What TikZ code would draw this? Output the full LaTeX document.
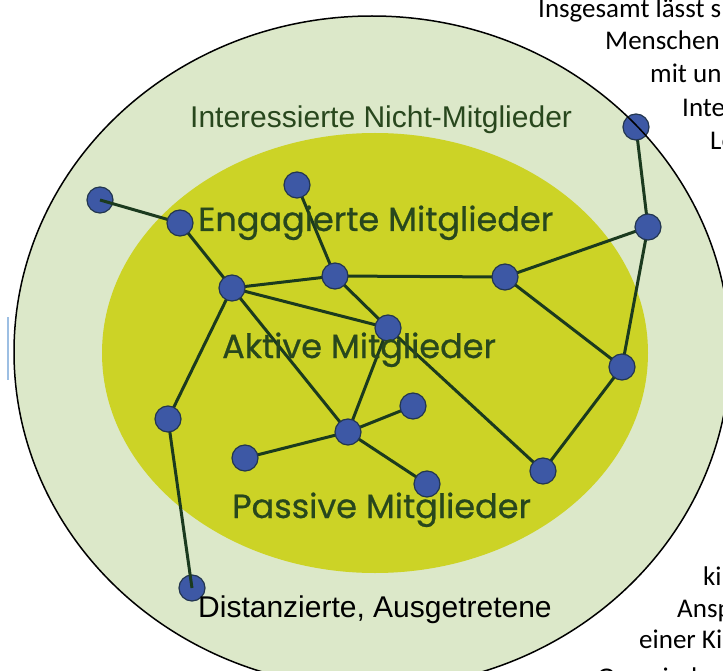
\documentclass[tikz,border=0pt]{standalone}
\usepackage{fontspec}
\setmainfont{Liberation Sans}
\newfontfamily\geo{Poppins}[FakeBold=0.7]
\newfontfamily\pagefont{Carlito}
\pgfdeclarelayer{base}
\pgfdeclarelayer{low}
\pgfdeclarelayer{edges}
\pgfdeclarelayer{fg}
\pgfsetlayers{base,low,edges,main,fg}
\definecolor{outerfill}{HTML}{DCE8C9}
\definecolor{innerfill}{HTML}{CCD326}
\definecolor{dotblue}{HTML}{3D58A5}
\definecolor{dotline}{HTML}{23364F}
\definecolor{linkgreen}{HTML}{1B3A1E}
\definecolor{labelgreen}{HTML}{28471D}
\definecolor{artblue}{HTML}{9DBFE3}
\begin{document}
\begin{tikzpicture}[x=1pt,y=-1pt,
  dot/.style={circle,draw=dotline,fill=dotblue,line width=1.2pt,minimum size=26pt,inner sep=0pt},
  link/.style={draw=linkgreen,line width=3pt},
  geolabel/.style={anchor=base west,inner sep=0pt,text=labelgreen,font=\geo\fontsize{33.5}{33.5}\selectfont},
  sanslabel/.style={anchor=base west,inner sep=0pt,font=\fontsize{30}{30}\selectfont},
  pagetext/.style={anchor=base west,inner sep=0pt,text=black,font=\pagefont\fontsize{27}{27}\selectfont}]
\useasboundingbox (0,0) rectangle (723,671);
\begin{pgfonlayer}{base}
\begin{scope}
\clip (0,0) rectangle (723,671);
\fill[white] (0,0) rectangle (723,671);
\fill[outerfill] (372,352) ellipse [x radius=358pt, y radius=336pt];
\fill[innerfill] (375,353) ellipse [x radius=273pt, y radius=220pt];
\draw[artblue,line width=2pt] (8,317) -- (8,380);
\node[pagetext] (t1) at (538,18) {Insgesamt lässt s};
\node[pagetext] (t2) at (605,50) {Menschen};
\node[pagetext] (t3) at (650,83) {mit un};
\node[pagetext] (t4) at (682,117) {Inte};
\node[pagetext] (t5) at (710,150) {Le};
\node[pagetext] (t6) at (703,585) {ki};
\node[pagetext] (t7) at (677,617) {Ansp};
\node[pagetext] (t8) at (639,648) {einer Ki};
\node[pagetext] (t9) at (597,686) {Gemeinde};
\end{scope}
\end{pgfonlayer}
\begin{pgfonlayer}{low}
\node[dot] (A) at (100,200) {};
\node[dot] (Q) at (192,588) {};
\end{pgfonlayer}
\node[dot] (B) at (180,223) {};
\node[dot] (C) at (297,185) {};
\node[dot] (D) at (232,288) {};
\node[dot] (E) at (335,276) {};
\node[dot] (F) at (505,277) {};
\node[dot] (G) at (648,227) {};
\node[dot] (H) at (636,127) {};
\node[dot] (I) at (388,328) {};
\node[dot] (J) at (622,367) {};
\node[dot] (K) at (168,419) {};
\node[dot] (L) at (348,432) {};
\node[dot] (M) at (413,406) {};
\node[dot] (N) at (245,458) {};
\node[dot] (O) at (427,484) {};
\node[dot] (P) at (543,471) {};
\begin{pgfonlayer}{edges}
\foreach \u/\v in {A/B,B/D,D/E,E/F,F/G,G/H,G/J,F/J,J/P,C/E,E/I,I/P,D/I,D/L,D/K,K/Q,L/I,L/M,L/N,L/O}
  \draw[link] (\u.center) -- (\v.center);
\end{pgfonlayer}
\node[sanslabel,text=labelgreen] (lint) at (190,128) {Interessierte Nicht-Mitglieder};
\node[geolabel] (leng) at (198,231) {Engagierte Mitglieder};
\node[geolabel] (lakt) at (222,358) {Aktive Mitglieder};
\node[geolabel] (lpas) at (232,518) {Passive Mitglieder};
\node[sanslabel,text=black] (ldis) at (198,617) {Distanzierte, Ausgetretene};
\begin{pgfonlayer}{fg}
\begin{scope}
\clip (0,0) rectangle (723,671);
\draw[black,line width=1.5pt] (372,352) ellipse [x radius=358pt, y radius=336pt];
\end{scope}
\end{pgfonlayer}
\end{tikzpicture}
\end{document}
